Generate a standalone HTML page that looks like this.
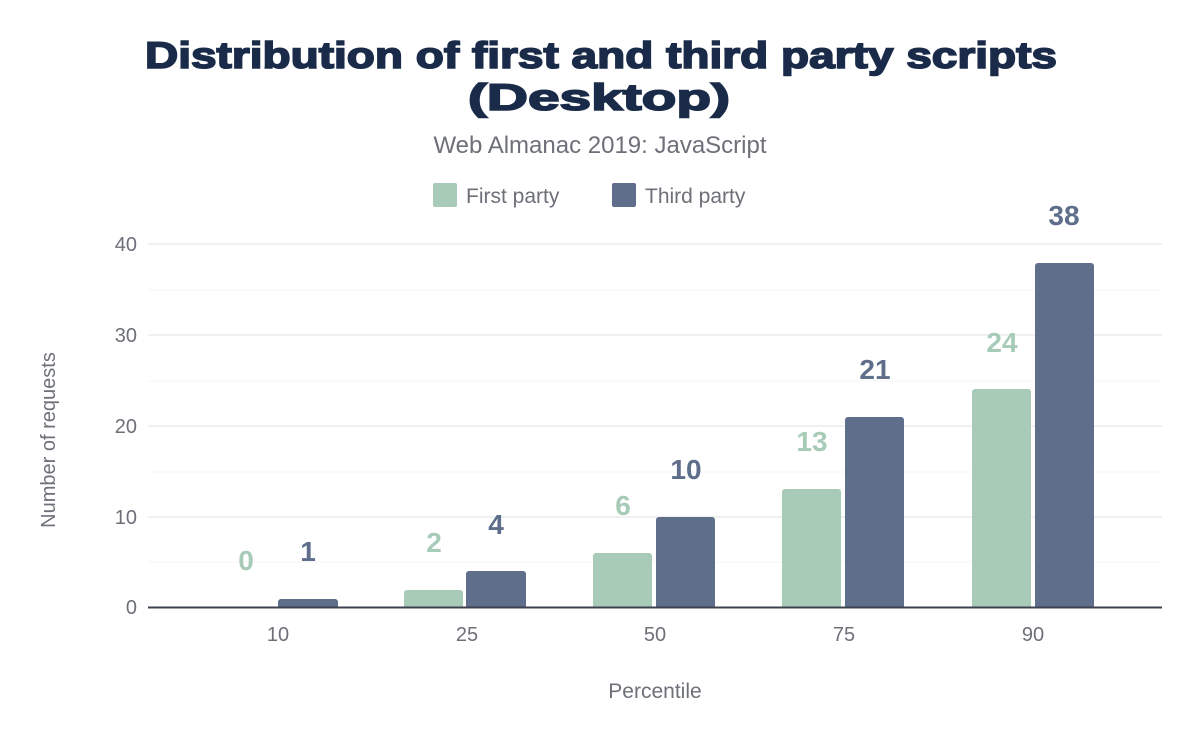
<!DOCTYPE html>
<html><head><meta charset="utf-8"><style>
body{margin:0;background:#fff;}
svg{display:block;font-family:"Liberation Sans",sans-serif;}
</style></head><body>
<svg width="1200" height="742" viewBox="0 0 1200 742">
<text x="145" y="68" textLength="912" lengthAdjust="spacingAndGlyphs" font-size="37" font-weight="bold" fill="#1a2b49" stroke="#1a2b49" stroke-width="1.6">Distribution of first and third party scripts</text>
<text x="468" y="110" textLength="262" lengthAdjust="spacingAndGlyphs" font-size="37" font-weight="bold" fill="#1a2b49" stroke="#1a2b49" stroke-width="1.6">(Desktop)</text>
<text x="600" y="153" text-anchor="middle" font-size="24" fill="#6e7079">Web Almanac 2019: JavaScript</text>
<rect x="433" y="183" width="24" height="24" rx="2" fill="#a8cbb8"/>
<text x="466" y="203" font-size="21" fill="#6e7079">First party</text>
<rect x="612" y="183" width="24" height="24" rx="2" fill="#5f6e8a"/>
<text x="645" y="203" font-size="21" fill="#6e7079">Third party</text>
<g stroke="#f4f4f4" stroke-width="1">
<line x1="148" x2="1162" y1="290" y2="290"/><line x1="148" x2="1162" y1="381" y2="381"/><line x1="148" x2="1162" y1="472" y2="472"/><line x1="148" x2="1162" y1="562" y2="562"/>
</g>
<g stroke="#ebebeb" stroke-width="1.5">
<line x1="148" x2="1162" y1="244" y2="244"/><line x1="148" x2="1162" y1="335" y2="335"/><line x1="148" x2="1162" y1="426" y2="426"/><line x1="148" x2="1162" y1="517" y2="517"/>
</g>
<g font-size="20" fill="#6e7079" text-anchor="end">
<text x="137" y="251">40</text><text x="137" y="342">30</text><text x="137" y="433">20</text><text x="137" y="524">10</text><text x="137" y="614">0</text>
</g>
<text transform="translate(55 440) rotate(-90)" text-anchor="middle" font-size="20" fill="#6e7079">Number of requests</text>
<g fill="#a8cbb8">
<path d="M404 607V593a3 3 0 0 1 3-3h53a3 3 0 0 1 3 3V607Z"/>
<path d="M593 607V556a3 3 0 0 1 3-3h53a3 3 0 0 1 3 3V607Z"/>
<path d="M782 607V492a3 3 0 0 1 3-3h53a3 3 0 0 1 3 3V607Z"/>
<path d="M972 607V392a3 3 0 0 1 3-3h53a3 3 0 0 1 3 3V607Z"/>
</g>
<g fill="#5f6e8a">
<path d="M278 607V602a3 3 0 0 1 3-3h54a3 3 0 0 1 3 3V607Z"/>
<path d="M466 607V574a3 3 0 0 1 3-3h54a3 3 0 0 1 3 3V607Z"/>
<path d="M656 607V520a3 3 0 0 1 3-3h53a3 3 0 0 1 3 3V607Z"/>
<path d="M845 607V420a3 3 0 0 1 3-3h53a3 3 0 0 1 3 3V607Z"/>
<path d="M1035 607V266a3 3 0 0 1 3-3h53a3 3 0 0 1 3 3V607Z"/>
</g>
<line x1="148" x2="1162" y1="607.5" y2="607.5" stroke="#3e4250" stroke-width="2"/>
<g font-size="28" font-weight="bold" text-anchor="middle" fill="#a8cbb8">
<text x="246" y="570">0</text><text x="434" y="552">2</text><text x="623" y="515">6</text><text x="812" y="451">13</text><text x="1002" y="352">24</text>
</g>
<g font-size="28" font-weight="bold" text-anchor="middle" fill="#5f6e8a">
<text x="308" y="561">1</text><text x="496" y="534">4</text><text x="686" y="479">10</text><text x="875" y="379">21</text><text x="1064" y="225">38</text>
</g>
<g font-size="20" fill="#6e7079" text-anchor="middle">
<text x="278" y="641">10</text><text x="467" y="641">25</text><text x="655" y="641">50</text><text x="844" y="641">75</text><text x="1033" y="641">90</text>
</g>
<text x="655" y="698" text-anchor="middle" font-size="21" fill="#6e7079">Percentile</text>
</svg>
</body></html>
